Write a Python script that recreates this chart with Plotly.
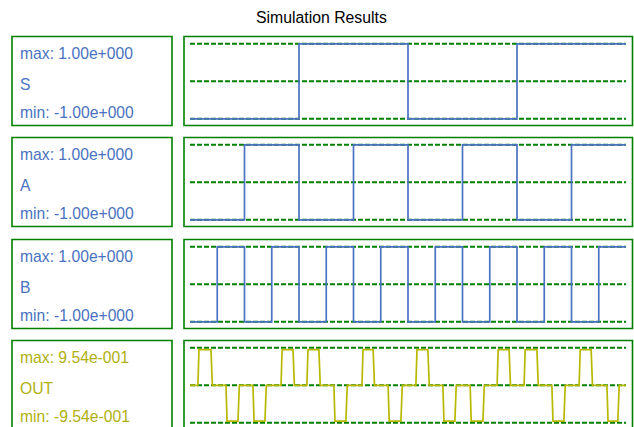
import plotly.graph_objects as go

# ---------------- data ----------------
title_text = "Simulation Results"
signal_names = ["S", "A", "B", "OUT"]
max_labels = ["max: 1.00e+000", "max: 1.00e+000", "max: 1.00e+000", "max: 9.54e-001"]
min_labels = ["min: -1.00e+000", "min: -1.00e+000", "min: -1.00e+000", "min: -9.54e-001"]

# step signals (hv steps): time of change and level after it
S_t = [0, 4, 8, 12, 16]
S_v = [-1, 1, -1, 1, 1]
A_t = [0, 2, 4, 6, 8, 10, 12, 14, 16]
A_v = [-1, 1, -1, 1, -1, 1, -1, 1, 1]
B_t = [0, 1, 2, 3, 4, 5, 6, 7, 8, 9, 10, 11, 12, 13, 14, 15, 16]
B_v = [-1, 1, -1, 1, -1, 1, -1, 1, -1, 1, -1, 1, -1, 1, -1, 1, 1]

# OUT: pulses (start, end, sign), amplitude 0.954
OUT_amp = 0.954
OUT_start = [0.29, 1.32, 2.31, 3.34, 4.29, 5.28, 6.31, 7.27, 8.29, 9.28, 10.28, 11.27, 12.26, 13.28, 14.28, 15.30]
OUT_end = [0.77, 1.76, 2.75, 3.78, 4.73, 5.72, 6.72, 7.74, 8.73, 9.72, 10.75, 11.71, 12.73, 13.72, 14.72, 15.70]
OUT_sign = [1, -1, -1, 1, 1, -1, 1, -1, 1, -1, -1, 1, 1, -1, 1, -1]

ref_levels = [-1, 0, 1]
t_range = [0, 16]

# ---------------- styles ----------------
W, H = 634, 427
BLUE = "#4a72c0"
OLIVE = "#b8b800"
GREEN = "#008000"
FONT = "Liberation Sans, Arial, Helvetica, sans-serif"
colors = [BLUE, BLUE, BLUE, OLIVE]
text_colors = [BLUE, BLUE, BLUE, "#b0b010"]

panel_tops = [36.5, 137.5, 239.5, 340.5]
box_h = 89
line_top_off = 7.3
line_span = 75.0
plot_x0, plot_x1 = 190.0, 626.0

def px_x(p):
    return p / W

def px_y(p):
    return 1 - p / H

# OUT waveform from read pulse edges
out_t = [0.0]
out_v = [0.0]
for s0, s1, sg in zip(OUT_start, OUT_end, OUT_sign):
    out_t += [s0, s0 + 0.04, s1, s1 + 0.05]
    out_v += [0.0, sg * OUT_amp, sg * OUT_amp, 0.0]
out_t.append(16.0)
out_v.append(0.0)

series = [(S_t, S_v, "hv"), (A_t, A_v, "hv"), (B_t, B_v, "hv"), (out_t, out_v, "linear")]

fig = go.Figure()
shapes = []
annotations = []

pad_y = 0.08  # units beyond +-1 so the lines are not clipped
pad_x = 0.2
px_per_unit_y = line_span / 2
px_per_unit_x = (plot_x1 - plot_x0) / (t_range[1] - t_range[0])

for i, (tt, vv, shp) in enumerate(series):
    n = i + 1
    xa = "x" if n == 1 else f"x{n}"
    ya = "y" if n == 1 else f"y{n}"
    top = panel_tops[i]
    ytop_px = top + line_top_off - pad_y * px_per_unit_y
    ybot_px = top + line_top_off + line_span + pad_y * px_per_unit_y
    xl = plot_x0 - pad_x * px_per_unit_x
    xr = plot_x1 + pad_x * px_per_unit_x

    fig.add_trace(go.Scatter(x=tt, y=vv, mode="lines", line=dict(color=colors[i], width=1.7, shape=shp),
                             xaxis=xa, yaxis=ya, showlegend=False, hoverinfo="skip"))

    ax_key = "xaxis" if n == 1 else f"xaxis{n}"
    ay_key = "yaxis" if n == 1 else f"yaxis{n}"
    fig.layout[ax_key] = dict(domain=[px_x(xl), px_x(xr)], range=[t_range[0] - pad_x, t_range[1] + pad_x],
                              visible=False, anchor=ya, fixedrange=True)
    fig.layout[ay_key] = dict(domain=[px_y(ybot_px), px_y(ytop_px)], range=[-1 - pad_y, 1 + pad_y],
                              visible=False, anchor=xa, fixedrange=True)

    for lv in ref_levels:
        shapes.append(dict(type="line", xref=xa, yref=ya, x0=t_range[0], x1=t_range[1], y0=lv, y1=lv,
                           line=dict(color=GREEN, width=2, dash="5px,2px"), layer="below"))

    # boxes
    shapes.append(dict(type="rect", xref="paper", yref="paper", x0=px_x(12), x1=px_x(172),
                       y0=px_y(top + box_h), y1=px_y(top), line=dict(color=GREEN, width=1.6)))
    shapes.append(dict(type="rect", xref="paper", yref="paper", x0=px_x(184), x1=px_x(632.5),
                       y0=px_y(top + box_h), y1=px_y(top), line=dict(color=GREEN, width=1.6)))

    for txt, off in [(max_labels[i], 17), (signal_names[i], 47.5), (min_labels[i], 75.5)]:
        annotations.append(dict(text=txt, xref="paper", yref="paper", x=px_x(18), y=px_y(top + off),
                                xanchor="left", yanchor="middle", showarrow=False,
                                font=dict(family=FONT, size=15.7, color=text_colors[i])))

annotations.append(dict(text=title_text, xref="paper", yref="paper", x=px_x(321.7), y=px_y(17),
                        xanchor="center", yanchor="middle", showarrow=False,
                        font=dict(family=FONT, size=15.8, color="black")))

fig.update_layout(width=W, height=H, margin=dict(l=0, r=0, t=0, b=0),
                  paper_bgcolor="white", plot_bgcolor="white",
                  shapes=shapes, annotations=annotations, showlegend=False)

fig.write_html("out.html", config={"displayModeBar": False},
               post_script="document.body.style.margin='0';document.body.style.overflow='hidden';")
